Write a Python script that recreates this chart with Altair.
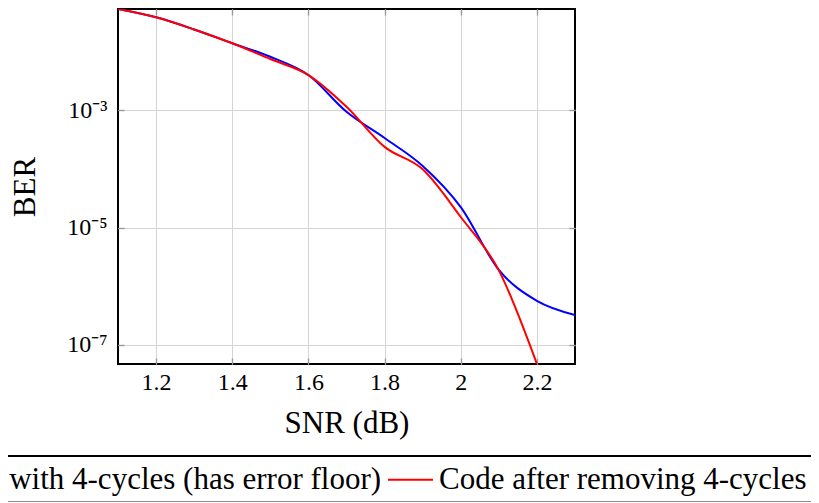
import math
import altair as alt
import pandas as pd

# ---- data ----
snr = [1.1, 1.2, 1.3, 1.4, 1.5, 1.6, 1.7, 1.8, 1.9, 2.0, 2.1, 2.2, 2.3]
ber_with_cycles = [5.26e-2, 3.80e-2, 2.36e-2, 1.374e-2, 8.09e-3, 3.95e-3, 9.33e-4,
                   3.34e-4, 1.12e-4, 2.23e-5, 1.90e-6, 5.64e-7, 3.24e-7]
ber_removed = [5.26e-2, 3.80e-2, 2.36e-2, 1.374e-2, 7.40e-3, 3.95e-3, 1.14e-3,
               2.36e-4, 9.8e-5, 1.51e-5, 1.86e-6, 4.74e-8]
series_names = ["Code with 4-cycles (has error floor)", "Code after removing 4-cycles"]
series_colors = ["#0000ff", "#ff0000"]
x_ticks = [1.2, 1.4, 1.6, 1.8, 2.0, 2.2]
y_ticks = [1e-3, 1e-5, 1e-7]
y_tick_labels = ["10⁻³", "10⁻⁵", "10⁻⁷"]

rows = []
for s, v in zip(snr, ber_with_cycles):
    rows.append({"snr": s, "ber": v, "series": series_names[0]})
for s, v in zip(snr, ber_removed):
    rows.append({"snr": s, "ber": v, "series": series_names[1]})
df = pd.DataFrame(rows)

x_dom = [1.1, 2.3]
y_dom = [min(ber_removed), max(ber_with_cycles)]

label_expr = ""
for v, lab in zip(y_ticks, y_tick_labels):
    label_expr += f"abs(log(datum.value)/LN10 - ({math.log10(v)})) < 0.01 ? '{lab}' : "
label_expr += "''"

FONT = "Liberation Serif"
GRID = "#d4d4d4"
TICK = "#9a9a9a"

xs = alt.Scale(domain=x_dom, nice=False, zero=False)
ys = alt.Scale(type="log", domain=y_dom, nice=False)

base = alt.Chart(df)

lines = base.mark_line(strokeWidth=2, interpolate="cardinal", clip=True).encode(
    x=alt.X("snr:Q", scale=xs, axis=alt.Axis(
        values=x_ticks, format="~g", title="SNR (dB)", orient="bottom",
        grid=True, gridColor=GRID, gridWidth=1, ticks=False, tickSize=0, domain=False,
        labelFont=FONT, labelFontSize=24, labelColor="black", labelPadding=6, labelFlush=False,
        titleFont=FONT, titleFontSize=31, titleColor="black", titleFontWeight="normal",
        titlePadding=14)),
    y=alt.Y("ber:Q", scale=ys, axis=alt.Axis(
        values=y_ticks, labelExpr=label_expr, title="BER", orient="left",
        grid=True, gridColor=GRID, gridWidth=1, ticks=False, tickSize=0, domain=False,
        labelFont=FONT, labelFontSize=24, labelColor="black", labelPadding=11,
        titleFont=FONT, titleFontSize=31, titleColor="black", titleFontWeight="normal",
        titlePadding=25)),
    color=alt.Color("series:N", scale=alt.Scale(domain=series_names, range=series_colors),
                    legend=alt.Legend(
                        title=None, orient="none", legendX=-234, legendY=447,
                        direction="horizontal", columns=2,
                        symbolType="stroke", symbolSize=2025, symbolStrokeWidth=2,
                        labelFont=FONT, labelFontSize=31, labelColor="black",
                        labelLimit=1000, labelOffset=5, columnPadding=2,
                        padding=0)),
)


def tick_layer(xorient, yorient):
    return base.mark_line(opacity=0).encode(
        x=alt.X("snr:Q", scale=xs, title=None, axis=alt.Axis(
            values=x_ticks, orient=xorient, offset=-6, labels=False, grid=False,
            domain=False, ticks=True, tickSize=6, tickColor=TICK, tickWidth=1.4)),
        y=alt.Y("ber:Q", scale=ys, title=None, axis=alt.Axis(
            values=y_ticks, orient=yorient, offset=-6, labels=False, grid=False,
            domain=False, ticks=True, tickSize=6, tickColor=TICK, tickWidth=1.4)),
        detail="series:N",
    )


# borders of the legend box (the box is wider than the figure)
one = pd.DataFrame({"k": [0]})
legend_top = alt.Chart(one).mark_rule(color="black", strokeWidth=2).encode(
    x=alt.value(-140), x2=alt.value(830), y=alt.value(447))
legend_bottom = alt.Chart(one).mark_rule(color="#8c8c8c", strokeWidth=1).encode(
    x=alt.value(-140), x2=alt.value(830), y=alt.value(492.5))

chart = alt.layer(
    lines,
    tick_layer("bottom", "left"),
    tick_layer("top", "right"),
    legend_top,
    legend_bottom,
).resolve_axis(
    x="independent", y="independent"
).properties(
    width=457, height=355,
    autosize=alt.AutoSizeParams(type="none"),
    padding={"left": 110, "top": 1, "right": 236, "bottom": 139},
).configure_view(
    stroke="black", strokeWidth=2
).configure_axis(
    labelFont=FONT, titleFont=FONT
).configure_legend(
    labelFont=FONT
).configure_text(
    font=FONT
)

chart.save("out.html", embed_options={"renderer": "svg", "actions": False})
